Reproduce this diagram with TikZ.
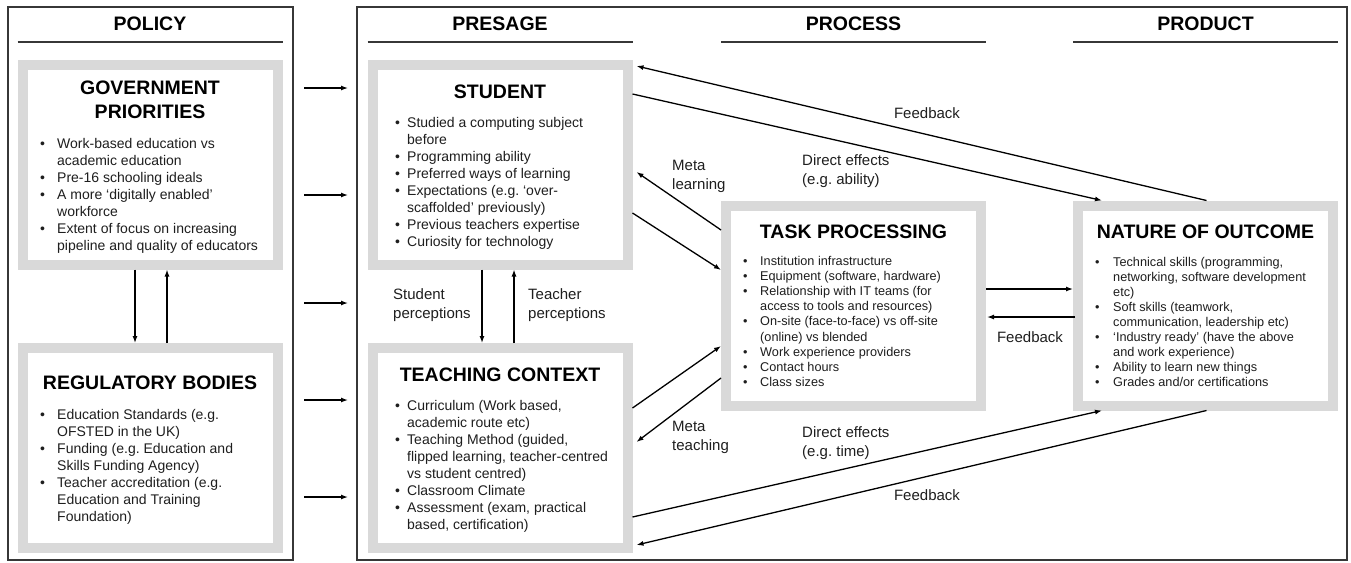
\documentclass[tikz,border=0pt]{standalone}
\usepackage{fontspec}
\setmainfont{Liberation Sans}
\usepackage{xcolor}
\usepackage{tikz}
\usetikzlibrary{arrows.meta}

\definecolor{boxgray}{RGB}{217,217,217}
\definecolor{framegray}{RGB}{55,55,55}
\definecolor{textgray}{RGB}{30,30,30}

\begin{document}
\frenchspacing
\begin{tikzpicture}[
        x=1pt, y=-1pt,
        >={Latex[length=7pt, width=5pt]},
        frame/.style={draw=framegray, line width=2pt, inner sep=0pt},
        rule/.style={draw=framegray, line width=2pt},
        col/.style={font=\fontsize{19.5}{24}\selectfont\bfseries, inner sep=0pt},
        box/.style={draw=boxgray, line width=10pt, fill=white, minimum width=255pt, minimum height=200pt, inner sep=0pt},
        boxtitle/.style={font=\fontsize{19.5}{24}\selectfont\bfseries, align=center, inner sep=0pt},
        list/.style={anchor=base west, inner sep=0pt, text=textgray, font=\fontsize{14}{17}\selectfont},
        smalllist/.style={list, font=\fontsize{12.7}{15.1}\selectfont},
        lbl/.style={anchor=west, align=left, inner sep=0pt, text=textgray, font=\fontsize{15}{19}\selectfont},
        link/.style={->, line width=1.3pt}
    ]
    \useasboundingbox (0,0) rectangle (1351,562);

    % Outer frames
    \node[frame, minimum width=285pt, minimum height=553pt] (policy) at (150.5,283.5) {};
    \node[frame, minimum width=990pt, minimum height=553pt] (main) at (852,283.5) {};

    % Boxes
    \node[box] (gov) at (150,164.5) {};
    \node[box] (reg) at (150,448) {};
    \node[box] (student) at (500,164.5) {};
    \node[box] (teaching) at (500,448) {};
    \node[box] (task) at (853.5,305.5) {};
    \node[box] (outcome) at (1205.5,305.5) {};

    % Column headings with their rules
    \node[col] (poltitle) at (150,24) {POLICY};
    \node[col] (pretitle) at (500,24) {PRESAGE};
    \node[col] (protitle) at (853.5,24) {PROCESS};
    \node[col] (prodtitle) at (1205.5,24) {PRODUCT};
    \draw[rule] (gov.west |- 0,42) -- (gov.east |- 0,42);
    \draw[rule] (student.west |- 0,42) -- (student.east |- 0,42);
    \draw[rule] (task.west |- 0,42) -- (task.east |- 0,42);
    \draw[rule] (outcome.west |- 0,42) -- (outcome.east |- 0,42);

    % Policy column
    \node[boxtitle] (govtitle) at (150,100) {GOVERNMENT\\PRIORITIES};
    \node[list] (govlist) at (40,148) {\begin{tabular}[t]{@{}p{17pt}@{}l@{}}
        \textbullet & Work-based education vs\\
                    & academic education\\
        \textbullet & Pre-16 schooling ideals\\
        \textbullet & A more `digitally enabled'\\
                    & workforce\\
        \textbullet & Extent of focus on increasing\\
                    & pipeline and quality of educators
    \end{tabular}};

    \node[boxtitle] (regtitle) at (150,383) {REGULATORY BODIES};
    \node[list] (reglist) at (40,419) {\begin{tabular}[t]{@{}p{17pt}@{}l@{}}
        \textbullet & Education Standards (e.g.\\
                    & OFSTED in the UK)\\
        \textbullet & Funding (e.g. Education and\\
                    & Skills Funding Agency)\\
        \textbullet & Teacher accreditation (e.g.\\
                    & Education and Training\\
                    & Foundation)
    \end{tabular}};

    % Presage column
    \node[boxtitle] (studtitle) at (500,92) {STUDENT};
    \node[list] (studlist) at (395,127) {\begin{tabular}[t]{@{}p{12pt}@{}l@{}}
        \textbullet & Studied a computing subject\\
                    & before\\
        \textbullet & Programming ability\\
        \textbullet & Preferred ways of learning\\
        \textbullet & Expectations (e.g. `over-\\
                    & scaffolded' previously)\\
        \textbullet & Previous teachers expertise\\
        \textbullet & Curiosity for technology
    \end{tabular}};

    \node[boxtitle] (teachtitle) at (500,375) {TEACHING CONTEXT};
    \node[list] (teachlist) at (395,410) {\begin{tabular}[t]{@{}p{12pt}@{}l@{}}
        \textbullet & Curriculum (Work based,\\
                    & academic route etc)\\
        \textbullet & Teaching Method (guided,\\
                    & flipped learning, teacher-centred\\
                    & vs student centred)\\
        \textbullet & Classroom Climate\\
        \textbullet & Assessment (exam, practical\\
                    & based, certification)
    \end{tabular}};

    % Process column
    \node[boxtitle] (tasktitle) at (853.5,232) {TASK PROCESSING};
    \node[smalllist] (tasklist) at (743,265.5) {\begin{tabular}[t]{@{}p{17pt}@{}l@{}}
        \textbullet & Institution infrastructure\\
        \textbullet & Equipment (software, hardware)\\
        \textbullet & Relationship with IT teams (for\\
                    & access to tools and resources)\\
        \textbullet & On-site (face-to-face) vs off-site\\
                    & (online) vs blended\\
        \textbullet & Work experience providers\\
        \textbullet & Contact hours\\
        \textbullet & Class sizes
    \end{tabular}};

    % Product column
    \node[boxtitle] (outtitle) at (1205.5,232) {NATURE OF OUTCOME};
    \node[smalllist] (outlist) at (1095,266) {\begin{tabular}[t]{@{}p{18pt}@{}l@{}}
        \textbullet & Technical skills (programming,\\
                    & networking, software development\\
                    & etc)\\
        \textbullet & Soft skills (teamwork,\\
                    & communication, leadership etc)\\
        \textbullet & `Industry ready' (have the above\\
                    & and work experience)\\
        \textbullet & Ability to learn new things\\
        \textbullet & Grades and/or certifications
    \end{tabular}};

    % Policy feeds into presage
    \coordinate (polOut) at ([xshift=10pt]policy.east);
    \coordinate (preIn) at ([xshift=-8pt]main.west);
    \foreach \y in {88,195,303,400,497}
        \draw[link] (polOut |- 0,\y) -- (preIn |- 0,\y);

    % Within the policy column
    \draw[link] ([xshift=-15pt]gov.south) -- ([xshift=-15pt]reg.north);
    \draw[link] ([xshift=17pt]reg.north) -- ([xshift=17pt]gov.south);

    % Perceptions between student and teaching
    \draw[link] ([xshift=-18pt]student.south) -- ([xshift=-18pt]teaching.north);
    \draw[link] ([xshift=14pt]teaching.north) -- ([xshift=14pt]student.south);
    \node[lbl] (studperc) at (393,305) {Student\\perceptions};
    \node[lbl] (teachperc) at (528,305) {Teacher\\perceptions};

    % Presage and task processing
    \draw[link] ([yshift=75.5pt]task.west) -- ([xshift=4pt, yshift=-7.5pt]student.east);
    \draw[link] ([yshift=-48.5pt]student.east) -- ([yshift=35.5pt]task.west);
    \draw[link] ([yshift=40pt]teaching.east) -- ([yshift=-40.5pt]task.west);
    \draw[link] ([yshift=-72.5pt]task.west) -- ([xshift=4pt, yshift=6pt]teaching.east);
    \node[lbl] (metalearn) at (672,176) {Meta\\learning};
    \node[lbl] (metateach) at (672,437) {Meta\\teaching};

    % Direct effects and feedback with the outcome
    \draw[link] ([yshift=70.5pt]student.east) -- ([xshift=-103.5pt]outcome.north);
    \draw[link] ([xshift=1pt]outcome.north) -- ([xshift=4pt, yshift=98.5pt]student.east);
    \draw[link] ([yshift=-69pt]teaching.east) -- ([xshift=-103.5pt]outcome.south);
    \draw[link] ([xshift=1pt]outcome.south) -- ([xshift=4pt, yshift=-97pt]teaching.east);
    \draw[link] ([yshift=16.5pt]task.east) -- ([yshift=16.5pt]outcome.west);
    \draw[link] ([xshift=2pt, yshift=-11.5pt]outcome.west) -- ([xshift=1pt, yshift=-11.5pt]task.east);

    \node[lbl] (directtop) at (802,171) {Direct effects\\(e.g. ability)};
    \node[lbl, anchor=center] (fbtop) at (927,113) {Feedback};
    \node[lbl, anchor=center] (fbmid) at (1030,337) {Feedback};
    \node[lbl] (directbot) at (802,443) {Direct effects\\(e.g. time)};
    \node[lbl, anchor=center] (fbbot) at (927,495) {Feedback};

\end{tikzpicture}
\end{document}
